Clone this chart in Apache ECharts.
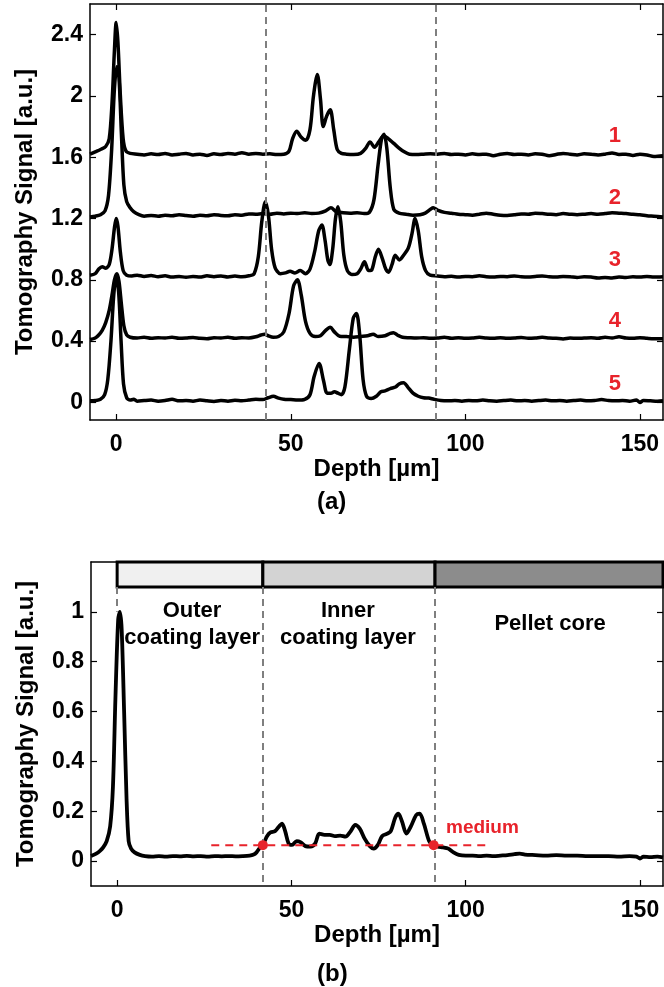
<!DOCTYPE html>
<html>
<head>
<meta charset="utf-8">
<script src="https://cdn.jsdelivr.net/npm/echarts@6/dist/echarts.min.js"></script>
<style>
  html, body { margin: 0; padding: 0; background: #fff; }
  #chart { width: 664px; height: 987px; }
</style>
</head>
<body>
<div id="chart"></div>
<script>
// tomography A-scans, panel (a): five pellets, vertically offset
var curve1 = [[-7.5,1.62],[-6,1.635],[-4.5,1.65],[-3,1.67],[-2,1.72],[-1.2,1.95],[-0.5,2.3],[0,2.48],[0.5,2.35],[1.2,2.0],[2,1.72],[2.8,1.64],[4,1.625],[6,1.62],[8,1.615],[10,1.622],[12,1.618],[14,1.625],[16,1.615],[18,1.62],[20,1.625],[22,1.615],[24,1.62],[26,1.612],[28,1.622],[30,1.618],[32,1.625],[34,1.62],[36,1.63],[38,1.62],[40,1.625],[42,1.62],[44,1.622],[46,1.618],[48,1.62],[49.5,1.64],[50.5,1.72],[51.7,1.77],[53,1.73],[54.3,1.71],[55.5,1.78],[56.5,2.0],[57.6,2.14],[58.5,1.98],[59.3,1.8],[60.3,1.87],[61.3,1.91],[62.3,1.78],[63.3,1.65],[64.5,1.625],[66,1.62],[68,1.618],[70,1.625],[71.5,1.66],[72.7,1.7],[74,1.665],[75.2,1.7],[76.6,1.74],[78,1.72],[79.5,1.69],[81,1.66],[82.5,1.635],[84,1.62],[86,1.618],[88,1.62],[90,1.622],[92,1.62],[94,1.625],[96,1.618],[98,1.62],[100,1.615],[102,1.622],[104,1.618],[106,1.62],[108,1.61],[110,1.62],[112,1.625],[114,1.618],[116,1.62],[118,1.615],[120,1.622],[122,1.62],[124,1.61],[126,1.618],[128,1.625],[130,1.62],[132,1.615],[134,1.622],[136,1.62],[138,1.615],[140,1.62],[142,1.628],[144,1.618],[146,1.62],[148,1.612],[150,1.62],[152,1.615],[154,1.605],[156.6,1.61]];
var curve2 = [[-7.5,1.21],[-6,1.215],[-4.5,1.225],[-3.2,1.25],[-2.2,1.35],[-1.3,1.65],[-0.5,2.05],[0.2,2.19],[0.8,2.12],[1.5,1.75],[2.2,1.42],[3,1.31],[4,1.27],[5,1.245],[6.5,1.225],[8,1.215],[10,1.22],[12,1.215],[14,1.222],[16,1.218],[18,1.225],[20,1.22],[22,1.215],[24,1.222],[26,1.218],[28,1.225],[30,1.22],[32,1.218],[34,1.225],[36,1.222],[38,1.23],[40,1.228],[42,1.232],[44,1.228],[46,1.235],[48,1.23],[50,1.235],[52,1.232],[54,1.238],[56,1.232],[58,1.235],[60,1.25],[61.5,1.27],[63,1.245],[65,1.238],[67,1.235],[69,1.238],[71,1.232],[72.5,1.24],[73.8,1.32],[75,1.55],[76,1.72],[76.7,1.75],[77.5,1.66],[78.5,1.4],[79.5,1.26],[81,1.235],[83,1.228],[85,1.222],[87,1.225],[88.5,1.235],[90,1.26],[90.8,1.27],[92,1.255],[94,1.24],[96,1.235],[98,1.228],[100,1.225],[102,1.222],[104,1.228],[106,1.235],[108,1.228],[110,1.222],[112,1.22],[114,1.225],[116,1.23],[118,1.228],[120,1.235],[122,1.232],[124,1.228],[126,1.225],[128,1.232],[130,1.228],[132,1.225],[134,1.228],[136,1.232],[138,1.228],[140,1.232],[142,1.238],[144,1.235],[146,1.232],[148,1.228],[150,1.225],[152,1.218],[154,1.215],[156.6,1.21]];
var curve3 = [[-7.5,0.83],[-6,0.84],[-5,0.87],[-4,0.885],[-3,0.875],[-2,0.9],[-1.2,1.0],[-0.5,1.14],[0,1.2],[0.5,1.15],[1.2,0.98],[2,0.86],[3,0.83],[4.5,0.825],[6,0.83],[8,0.822],[10,0.828],[12,0.82],[14,0.826],[16,0.818],[18,0.822],[20,0.816],[22,0.822],[24,0.818],[26,0.826],[28,0.82],[30,0.825],[32,0.818],[34,0.824],[36,0.82],[38,0.826],[39.5,0.84],[40.7,0.95],[41.7,1.18],[42.7,1.31],[43.6,1.22],[44.5,1.0],[45.5,0.88],[47,0.84],[48.5,0.845],[49.8,0.856],[51.2,0.845],[52.7,0.86],[54.2,0.84],[55.5,0.87],[56.8,0.98],[58,1.12],[58.9,1.157],[59.8,1.06],[60.6,0.93],[61.2,0.9],[62,1.0],[62.8,1.2],[63.5,1.276],[64.3,1.18],[65.2,0.96],[66.2,0.86],[67.5,0.835],[69,0.84],[70,0.87],[71.1,0.917],[72.3,0.86],[73.2,0.865],[74.2,0.95],[75.1,1.0],[76.2,0.94],[77.2,0.87],[78,0.85],[79,0.9],[79.9,0.96],[81.1,0.93],[82.3,0.96],[83.7,1.01],[84.7,1.1],[85.6,1.2],[86.5,1.12],[87.5,0.95],[88.6,0.86],[89.9,0.83],[92,0.825],[94,0.82],[96,0.823],[98,0.818],[100,0.822],[102,0.82],[104,0.826],[106,0.82],[108,0.818],[110,0.822],[112,0.82],[114,0.825],[116,0.82],[118,0.818],[120,0.822],[122,0.825],[124,0.82],[126,0.818],[128,0.822],[130,0.82],[132,0.815],[134,0.82],[136,0.818],[138,0.812],[140,0.815],[142,0.812],[144,0.818],[146,0.815],[148,0.82],[150,0.818],[152,0.822],[154,0.818],[156.6,0.82]];
var curve4 = [[-7.5,0.41],[-6,0.42],[-5,0.44],[-4,0.47],[-3,0.52],[-2,0.6],[-1.2,0.7],[-0.5,0.8],[0.2,0.84],[0.8,0.79],[1.5,0.64],[2.2,0.5],[3,0.44],[4,0.425],[6,0.42],[8,0.425],[10,0.418],[12,0.422],[14,0.42],[16,0.425],[18,0.418],[20,0.42],[22,0.424],[24,0.418],[26,0.415],[28,0.422],[30,0.42],[32,0.425],[34,0.418],[36,0.422],[38,0.42],[40,0.428],[41.5,0.44],[42.5,0.445],[43.5,0.435],[45,0.425],[46.5,0.43],[48,0.46],[49.5,0.58],[50.8,0.76],[51.9,0.8],[53,0.7],[54.2,0.53],[55.5,0.45],[57,0.43],[58.5,0.435],[60,0.47],[61.3,0.49],[62.5,0.46],[64,0.432],[66,0.43],[68,0.425],[70,0.43],[72,0.435],[73.6,0.445],[75,0.43],[77,0.435],[78.5,0.45],[79.4,0.455],[80.5,0.44],[82,0.425],[84,0.422],[86,0.42],[88,0.422],[90,0.418],[92,0.42],[94,0.425],[96,0.418],[98,0.422],[100,0.418],[102,0.42],[104,0.425],[106,0.42],[108,0.418],[110,0.422],[112,0.418],[114,0.42],[116,0.424],[118,0.418],[120,0.42],[122,0.425],[124,0.42],[126,0.418],[128,0.414],[130,0.42],[132,0.418],[134,0.42],[136,0.422],[138,0.418],[140,0.425],[142,0.42],[144,0.428],[146,0.42],[148,0.418],[150,0.422],[152,0.418],[154,0.415],[156.6,0.415]];
var curve5 = [[-7.5,0.01],[-6,0.012],[-4.5,0.02],[-3.3,0.05],[-2.4,0.15],[-1.5,0.4],[-0.7,0.7],[0,0.82],[0.7,0.72],[1.4,0.4],[2.1,0.12],[3,0.03],[4,0.015],[5,0.02],[6,0.008],[8,0.012],[10,0.015],[12,0.008],[14,0.012],[16,0.02],[18,0.01],[20,0.012],[22,0.008],[24,0.015],[26,0.01],[28,0.006],[30,0.012],[32,0.008],[34,0.014],[36,0.01],[38,0.015],[40,0.02],[42,0.018],[43.5,0.03],[45,0.04],[46.5,0.028],[48,0.02],[50,0.018],[52,0.015],[54,0.02],[55.5,0.05],[56.7,0.17],[58.1,0.254],[59.4,0.14],[60.4,0.06],[61.5,0.06],[62.5,0.07],[63.5,0.06],[64.5,0.05],[65.5,0.1],[66.8,0.35],[67.9,0.55],[68.8,0.58],[69.7,0.45],[70.7,0.15],[71.7,0.04],[73,0.025],[74.5,0.04],[75.8,0.07],[77,0.075],[78.5,0.09],[80,0.1],[81,0.12],[82.3,0.128],[83.5,0.1],[85,0.06],[86.5,0.04],[88,0.03],[89.5,0.028],[91,0.02],[93,0.012],[95,0.01],[97,0.012],[99,0.008],[101,0.012],[103,0.01],[105,0.015],[107,0.01],[109,0.008],[111,0.012],[113,0.015],[115,0.01],[117,0.012],[119,0.008],[121,0.012],[123,0.015],[125,0.01],[127,0.012],[129,0.008],[131,0.012],[133,0.015],[135,0.01],[137,0.012],[139,0.018],[141,0.012],[143,0.01],[145,0.012],[147,0.008],[149,0.015],[150,0.0],[151,0.012],[153,0.01],[155,0.008],[156.6,0.01]];
var curveNames = ["1", "2", "3", "4", "5"];
var curveLabelPos = [[142.8,1.74],[142.8,1.335],[142.8,0.93],[142.8,0.53],[142.8,0.12]];
var layerLinesA = [42.7, 91.5];

// panel (b): single averaged scan
var curveB = [[-7.5,0.02],[-6,0.03],[-5,0.04],[-4,0.055],[-3,0.08],[-2,0.14],[-1.2,0.3],[-0.5,0.65],[0.3,0.97],[0.8,1.0],[1.3,0.93],[2,0.6],[2.7,0.25],[3.3,0.08],[4,0.05],[5,0.035],[6.5,0.025],[8,0.02],[10,0.018],[12,0.02],[14,0.018],[16,0.02],[18,0.019],[20,0.021],[22,0.019],[24,0.02],[26,0.018],[28,0.02],[30,0.019],[32,0.02],[34,0.019],[36,0.02],[38,0.022],[39,0.025],[40,0.035],[41,0.055],[42,0.07],[43,0.1],[44,0.115],[45.3,0.12],[46.5,0.14],[47.3,0.15],[48.2,0.12],[49.2,0.07],[50.2,0.065],[51.5,0.08],[52.7,0.075],[54,0.06],[55.5,0.058],[56.8,0.07],[58,0.11],[59.5,0.105],[61,0.105],[62.5,0.1],[64,0.102],[65.5,0.098],[67,0.12],[68.3,0.145],[69.6,0.13],[71,0.09],[72.5,0.06],[73.6,0.05],[74.8,0.065],[76,0.1],[77.5,0.11],[78.5,0.12],[79.8,0.175],[80.7,0.19],[81.7,0.16],[83,0.11],[84.3,0.14],[85.8,0.185],[86.8,0.19],[88,0.15],[89.5,0.08],[90.5,0.065],[92,0.058],[93.5,0.055],[95,0.05],[96.5,0.035],[98,0.025],[100,0.022],[102,0.022],[104,0.02],[106,0.022],[108,0.02],[110,0.022],[112,0.024],[114,0.028],[115.5,0.03],[117,0.026],[120,0.024],[123,0.022],[126,0.024],[129,0.022],[132,0.022],[135,0.02],[138,0.02],[141,0.02],[144,0.018],[147,0.02],[149,0.018],[150,0.01],[151,0.018],[153,0.016],[155,0.018],[156.6,0.015]];
var layerBounds = [0, 41.8, 91.2, 156.6];
var layerColors = ["#f0f0f0", "#d3d3d3", "#8c8c8c"];
var layerNames = ["Outer\ncoating layer", "Inner\ncoating layer", "Pellet core"];
var layerLabelPos = [[21.5,0.95],[66.2,0.95],[124.2,0.95]];
var mediumLevel = 0.064;
var mediumSpan = [27, 106.8];
var mediumPoints = [[41.8,0.064],[90.8,0.064]];

var xTicks = [0, 50, 100, 150];
var yTicksA = [0, 0.4, 0.8, 1.2, 1.6, 2, 2.4];
var yTicksB = [0, 0.2, 0.4, 0.6, 0.8, 1];

var FONT = "Liberation Sans";
var RED = "#e8232b";

function xAxisPair(grid) {
  var base = {
    type: "value", gridIndex: grid, min: -7.5, max: 156.6,
    splitLine: { show: false },
    axisLine: { show: true, onZero: false, lineStyle: { color: "#000", width: 1.5 } },
    axisTick: { show: true, inside: true, length: 6, customValues: xTicks, lineStyle: { color: "#000", width: 1.2 } }
  };
  var bottom = Object.assign({}, base, {
    position: "bottom",
    axisLabel: { customValues: xTicks, margin: 13, color: "#000", fontFamily: FONT, fontWeight: "bold", fontSize: 23 },
    name: "Depth [µm]", nameLocation: "middle", nameGap: 36,
    nameTextStyle: { color: "#000", fontFamily: FONT, fontWeight: "bold", fontSize: 24 }
  });
  var top = Object.assign({}, base, { position: "top", axisLabel: { show: false } });
  return [bottom, top];
}

function yAxisPair(grid, min, max, ticks) {
  var base = {
    type: "value", gridIndex: grid, min: min, max: max,
    splitLine: { show: false },
    axisLine: { show: true, onZero: false, lineStyle: { color: "#000", width: 1.5 } },
    axisTick: { show: true, inside: true, length: 6, customValues: ticks, lineStyle: { color: "#000", width: 1.2 } }
  };
  var left = Object.assign({}, base, {
    position: "left",
    axisLabel: { customValues: ticks, margin: 7, color: "#000", fontFamily: FONT, fontWeight: "bold", fontSize: 23 },
    name: "Tomography Signal [a.u.]", nameLocation: "middle", nameGap: 53,
    nameTextStyle: { color: "#000", fontFamily: FONT, fontWeight: "bold", fontSize: 24 }
  });
  var right = Object.assign({}, base, { position: "right", axisLabel: { show: false } });
  return [left, right];
}

var scanLine = { color: "#000", width: 3.5 };
var dashGray = { color: "#7f7f7f", width: 2, type: [7, 5] };
var hidden = { color: "rgba(0,0,0,0)", opacity: 1 };

var series = [];
[curve1, curve2, curve3, curve4, curve5].forEach(function (c, i) {
  series.push({
    type: "line", xAxisIndex: 0, yAxisIndex: 0, data: c,
    symbol: "none", smooth: 0.3, lineStyle: scanLine, z: 3,
    markLine: i === 0 ? {
      silent: true, symbol: "none", label: { show: false },
      lineStyle: dashGray,
      data: layerLinesA.map(function (x) { return { xAxis: x }; })
    } : undefined
  });
});
series.push({
  type: "scatter", xAxisIndex: 0, yAxisIndex: 0, data: curveLabelPos,
  symbolSize: 1, itemStyle: hidden, silent: true,
  label: {
    show: true, position: "inside", color: RED, fontFamily: FONT, fontWeight: "bold", fontSize: 22,
    formatter: function (p) { return curveNames[p.dataIndex]; }
  }
});

// panel (b)
var layerAreas = [];
for (var i = 0; i < layerColors.length; i++) {
  layerAreas.push([
    { coord: [layerBounds[i], 1.1], itemStyle: { color: layerColors[i], borderColor: "#000", borderWidth: 3, opacity: 1 } },
    { coord: [layerBounds[i + 1], 1.2] }
  ]);
}
series.push({
  type: "line", xAxisIndex: 2, yAxisIndex: 2, data: curveB,
  symbol: "none", smooth: 0.3, lineStyle: { color: "#000", width: 3.8 }, z: 3,
  markArea: { silent: true, data: layerAreas },
  markLine: {
    silent: true, symbol: "none", label: { show: false }, lineStyle: dashGray,
    data: [
      [{ coord: [0, 1.1] }, { coord: [0, 1.0] }],
      [{ coord: [layerBounds[1], 1.1] }, { coord: [layerBounds[1], -0.1] }],
      [{ coord: [layerBounds[2], 1.1] }, { coord: [layerBounds[2], -0.1] }]
    ]
  }
});
series.push({
  type: "line", xAxisIndex: 2, yAxisIndex: 2,
  data: [[mediumSpan[0], mediumLevel], [mediumSpan[1], mediumLevel]],
  symbol: "none", lineStyle: { color: RED, width: 2, type: [8, 6] }, z: 4
});
series.push({
  type: "scatter", xAxisIndex: 2, yAxisIndex: 2, data: mediumPoints,
  symbolSize: 10, itemStyle: { color: RED, opacity: 1 }, z: 5
});
series.push({
  type: "scatter", xAxisIndex: 2, yAxisIndex: 2, data: [[104.8, 0.132]],
  symbolSize: 1, itemStyle: hidden, silent: true,
  label: { show: true, position: "inside", formatter: "medium", color: RED, fontFamily: FONT, fontWeight: "bold", fontSize: 19 }
});
series.push({
  type: "scatter", xAxisIndex: 2, yAxisIndex: 2, data: layerLabelPos,
  symbolSize: 1, itemStyle: hidden, silent: true,
  label: {
    show: true, position: "inside", color: "#000", fontFamily: FONT, fontWeight: "bold", fontSize: 22, lineHeight: 27,
    formatter: function (p) { return layerNames[p.dataIndex]; }
  }
});

var xa = xAxisPair(0), xb = xAxisPair(1);
var ya = yAxisPair(0, -0.115, 2.6, yTicksA), yb = yAxisPair(1, -0.1, 1.2, yTicksB);

var chart = echarts.init(document.getElementById("chart"), null, { renderer: "canvas" });
chart.setOption({
  animation: false,
  backgroundColor: "#fff",
  grid: [
    { left: 90, top: 4, width: 573, height: 416 },
    { left: 91, top: 562, width: 572, height: 324 }
  ],
  xAxis: [xa[0], xa[1], xb[0], xb[1]],
  yAxis: [ya[0], ya[1], yb[0], yb[1]],
  graphic: [
    { type: "text", left: 317, top: 490, style: { text: "(a)", fill: "#000", font: "bold 24px '" + FONT + "'" } },
    { type: "text", left: 317, top: 962, style: { text: "(b)", fill: "#000", font: "bold 24px '" + FONT + "'" } }
  ],
  series: series
});
</script>
</body>
</html>
